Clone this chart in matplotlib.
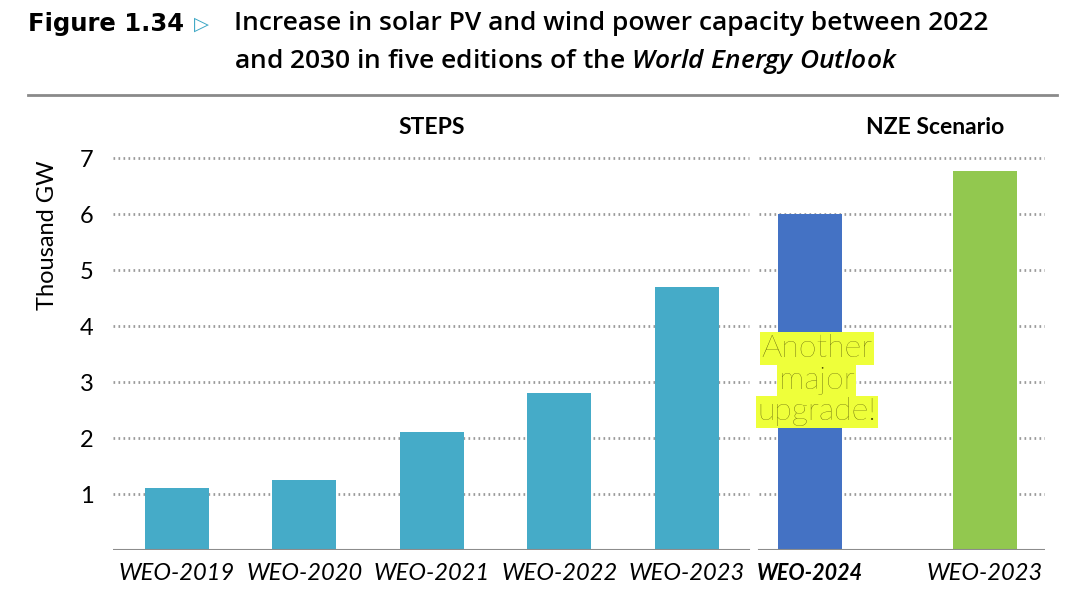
import matplotlib
matplotlib.use("Agg")
import matplotlib.pyplot as plt

plt.rcParams["mathtext.fontset"] = "custom"
plt.rcParams["mathtext.it"] = "Open Sans:italic:semibold"
plt.rcParams["mathtext.rm"] = "Open Sans:semibold"

# data (thousand GW)
editions = ["WEO-2019", "WEO-2020", "WEO-2021", "WEO-2022", "WEO-2023", "WEO-2024", "WEO-2023"]
capacity = [1.1, 1.25, 2.1, 2.8, 4.7, 6.0, 6.77]
bar_colors = ["#45abc8"] * 5 + ["#4472c4", "#92c84f"]
yticks = [1, 2, 3, 4, 5, 6, 7]

# bar centres (composite image, last two not evenly spaced)
xpos = [0, 1, 2, 3, 4, 4.965, 6.34]

fig = plt.figure(figsize=(10.65, 5.92), dpi=100)
ax = fig.add_axes([113 / 1065, 42 / 592, (1045 - 113) / 1065, 0.681])

xmin, xmax = -0.5, 6.81
gap = (4.49, 4.57)
for y in yticks:
    ax.plot([xmin, gap[0]], [y, y], color="#9a9a9a", lw=2, ls=(0, (0.6, 1.2)), zorder=0)
    ax.plot([gap[1], xmax], [y, y], color="#9a9a9a", lw=2, ls=(0, (0.6, 1.2)), zorder=0)
ax.plot([xmin, gap[0]], [0, 0], color="#8c8c8c", lw=1.5, zorder=3)
ax.plot([gap[1], xmax], [0, 0], color="#8c8c8c", lw=1.5, zorder=3)

ax.bar(xpos, capacity, width=0.5, color=bar_colors, zorder=2)

ax.set_xlim(xmin, xmax)
ax.set_ylim(0, 7.2)
ax.set_yticks(yticks)
ax.set_yticklabels([str(t) for t in yticks], fontsize=17, family="Lato")
ax.set_xticks(xpos)
ax.set_xticklabels(editions, fontsize=17, style="italic", family="Lato")
ax.get_xticklabels()[5].set_fontweight("bold")
ax.get_xticklabels()[5].set_fontsize(15.5)
ax.tick_params(length=0, pad=9)
ax.tick_params(axis="y", pad=14)
for s in ax.spines.values():
    s.set_visible(False)
ax.set_ylabel("Thousand GW", fontsize=17, family="Lato")
ax.yaxis.set_label_coords(-0.059, 0.78)

# panel headers
ax.text(2, 7.55, "STEPS", ha="center", va="center", fontsize=16.5, fontweight="bold", family="Lato")
ax.text(5.95, 7.55, "NZE Scenario", ha="center", va="center", fontsize=16.5, fontweight="bold", family="Lato")

# highlighted annotation
for txt, y in [("Another", 3.6), ("major", 3.03), ("upgrade!", 2.47)]:
    ax.text(5.02, y, txt, ha="center", va="center", fontsize=23, color="#4a4a05",
            family="Lato", fontweight="light", zorder=5,
            bbox=dict(boxstyle="square,pad=0.05", fc="#eeff3a", ec="none"))

# title block
fig.text(28 / 1065, 1 - 24 / 592, "Figure 1.34", fontsize=17.5, fontweight="bold",
         family="DejaVu Sans", va="center", ha="left")
fig.text(194 / 1065, 1 - 24 / 592, "\u25b7", fontsize=14, color="#3aa6c4",
         va="center", ha="left", family="DejaVu Sans")
fig.text(234 / 1065, 1 - 24 / 592, "Increase in solar PV and wind power capacity between 2022",
         fontsize=19, family="Open Sans", fontweight="semibold", va="center", ha="left")
fig.text(234 / 1065, 1 - 62 / 592, "and 2030 in five editions of the $\\mathit{World\\ Energy\\ Outlook}$",
         fontsize=19, family="Open Sans", fontweight="semibold", va="center", ha="left")
fig.add_artist(plt.Line2D([28 / 1065, 1057 / 1065], [1 - 95 / 592] * 2,
                          color="#8a8a8a", lw=2, transform=fig.transFigure))

fig.savefig("out.png", dpi=100)
